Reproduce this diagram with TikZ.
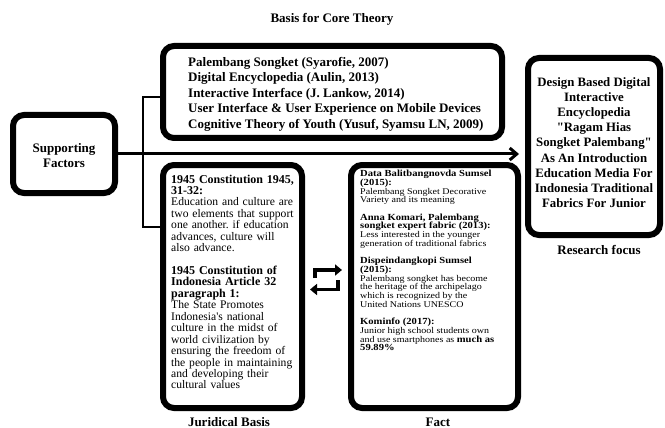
\documentclass[tikz,border=0pt]{standalone}
\usepackage{fontspec}
\setmainfont{Liberation Serif}[Ligatures=TeXOff]
\usetikzlibrary{arrows.meta}
\frenchspacing
\newcommand\jbody{\fontsize{11.6}{11.44}\selectfont\mdseries}
\newcommand\jhead{\fontsize{12}{11.44}\selectfont\bfseries}
\newcommand\fbody{\fontsize{10}{9.9}\selectfont\mdseries}
\newcommand\fhead{\fontsize{10.6}{9.9}\selectfont\bfseries}
\begin{document}
\begin{tikzpicture}[x=1pt,y=-1pt,
  box/.style={draw, line width=6pt, rounded corners=11pt, inner sep=0pt, fill=white},
  lab/.style={font=\bfseries\fontsize{13}{15}\selectfont, inner sep=0pt},
  conn/.style={line width=2.8pt},
  mainarrow/.style={line width=3pt, -{Straight Barb[length=7pt,width=12pt]}},
  swaparrow/.style={line width=3.5pt, -{Triangle[length=7pt,width=11pt]}},
  txt/.style={inner sep=0pt, align=left}
]
\fill[white] (0,0) rectangle (665,428);
\path[use as bounding box] (0,0) rectangle (665,428);

% title
\node[lab] (title) at (332,19) {Basis for Core Theory};

% boxes
\node[box, minimum width=102pt, minimum height=78pt] (sf) at (64,154) {};
\node[box, minimum width=339pt, minimum height=92pt] (core) at (332.5,92) {};
\node[box, minimum width=132pt, minimum height=177pt] (focus) at (594,146.5) {};
\node[box, minimum width=139pt, minimum height=243pt] (jur) at (232.5,286.5) {};
\node[box, minimum width=167pt, minimum height=243pt] (fact) at (434.5,286.5) {};

% connectors
\coordinate (ja) at (143,97);
\coordinate (jb) at (143,227);
\coordinate (tip) at (519,154);
\draw[conn] (ja -| core.west) -- (ja) -- (jb) -- (jb -| jur.west);
\draw[mainarrow] (sf.east) -- (tip);

% exchange arrows
\coordinate (a1) at (315,278);
\coordinate (a2) at (315,270);
\coordinate (a3) at (342,270);
\coordinate (b1) at (338,280);
\coordinate (b2) at (338,289.5);
\coordinate (b3) at (310,289.5);
\draw[swaparrow] (a1) -- (a2) -- (a3);
\draw[swaparrow] (b1) -- (b2) -- (b3);

% texts
\node[lab, align=center] (sftext) at (64,156) {Supporting\\Factors};

\node[txt, anchor=west, font=\bfseries\fontsize{13}{15.5}\selectfont] (coretext) at (188,94)
{Palembang Songket (Syarofie, 2007)\\
Digital Encyclopedia (Aulin, 2013)\\
Interactive Interface (J. Lankow, 2014)\\
User Interface \& User Experience on Mobile Devices\\
Cognitive Theory of Youth (Yusuf, Syamsu LN, 2009)};

\node[inner sep=0pt, align=center, font=\bfseries\fontsize{12.8}{15.2}\selectfont] (focustext) at (594,142.5)
{Design Based Digital\\
Interactive\\
Encyclopedia\\
"Ragam Hias\\
Songket Palembang"\\
As An Introduction\\
Education Media For\\
Indonesia Traditional\\
Fabrics For Junior};

\node[txt, anchor=north west, text width=136pt, font={\jbody\lineskiplimit=-30pt}] (jurtext) at (171,174.5)
{{\jhead 1945 Constitution 1945,\\
31-32:}\\
Education and culture are\\
two elements that support\\
one another. if education\\
advances, culture will\\
also advance.\\[11.44pt]
{\jhead 1945 Constitution of\\
Indonesia Article 32\\
paragraph 1:}\\
The State Promotes\\
Indonesia's national\\
culture in the midst of\\
world civilization by\\
ensuring the freedom of\\
the people in maintaining\\
and developing their\\
cultural values\par};

\node[inner sep=0pt, anchor=north west] (facttext) at (360,170)
{\scalebox{1}[0.88]{\begin{minipage}[t]{155pt}\raggedright\fbody\lineskiplimit=-30pt
{\fhead Data Balitbangnovda Sumsel\\
(2015):}\\
Palembang Songket Decorative\\
Variety and its meaning\\[9.9pt]
{\fhead Anna Komari, Palembang\\
songket expert fabric (2013):}\\
Less interested in the younger\\
generation of traditional fabrics\\[9.9pt]
{\fhead Dispeindangkopi Sumsel\\
(2015):}\\
Palembang songket has become\\
the heritage of the archipelago\\
which is recognized by the\\
United Nations UNESCO\\[9.9pt]
{\fhead Kominfo (2017):}\\
Junior high school students own\\
and use smartphones as {\fhead much as\\
59.89\%}\par
\end{minipage}}};

% labels
\node[lab, anchor=base] (jurlab) at (229,426) {Juridical Basis};
\node[lab, anchor=base] (factlab) at (438,426) {Fact};
\node[lab, anchor=base] (focuslab) at (599,254) {Research focus};
\end{tikzpicture}
\end{document}
